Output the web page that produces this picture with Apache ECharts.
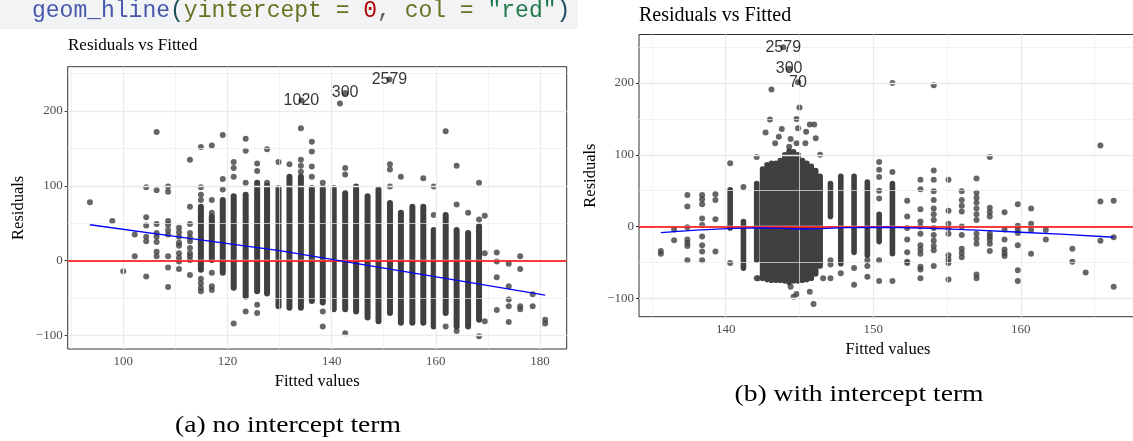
<!DOCTYPE html>
<html>
<head>
<meta charset="utf-8">
<script src="https://cdn.jsdelivr.net/npm/echarts@6/dist/echarts.min.js"></script>
<style>
html,body{margin:0;padding:0;background:#fff;}
#chart{width:1133px;height:441px;}
</style>
</head>
<body>
<div id="chart"></div>
<script>
// ---------------- DATA ----------------
// Panel (a): no intercept term
const LEFT_X_TICKS = [100, 120, 140, 160, 180];
const LEFT_X_MINOR = [90, 110, 130, 150, 170];
const LEFT_Y_TICKS = [-100, 0, 100, 200];
const LEFT_Y_MINOR = [-50, 50, 150, 250];
// dense vertical columns of overlapping points: [fitted, lowest residual, highest residual]
const LEFT_COLUMNS = [
  [114.9,-12,72],[117.0,1,59],[119.1,-16,81],[121.2,-36,86],[123.5,-48,88],[125.7,-41,104],
  [127.6,-44,100],[129.8,-61,97],[131.9,-63,112],[134.1,-63,112],[136.2,-54,97],[138.3,-56,97],
  [140.4,-65,97],[142.6,-65,90],[144.7,-68,99],[146.9,-76,86],[149.0,-81,95],[151.2,-70,77],
  [153.3,-83,64],[155.5,-83,72],[157.6,-83,72],[159.6,-88,41],[161.9,-70,61],[164.0,-88,41],
  [166.2,-88,37],[168.3,-79,46]
];
// individual points: [fitted, [residuals...]]
const LEFT_POINTS = [
  [93.6,[78]],[97.9,[53]],[100.0,[-14]],[102.2,[35,6]],
  [104.4,[98,58,47,32,26,-21]],
  [106.4,[172,94,49,37,32,25,12,6]],
  [108.6,[99,92,53,48,41,35,6,-9,-35]],
  [110.7,[44,38,32,24,20,10,4,-1,-11]],
  [112.8,[135,72,49,37,31,26,17,10,6,1,-19]],
  [114.9,[152,98,88,81,-24,-30,-36,-41]],
  [117.0,[154,81,64,-16,-34,-39]],
  [119.1,[168,109,95]],
  [121.2,[132,124,112,-84]],
  [123.5,[163,147,104,-68]],
  [125.7,[130,120,-59,-70]],
  [127.6,[149,104]],
  [129.8,[132]],
  [131.9,[129]],
  [134.1,[177,135,127,119]],
  [136.2,[159,146,126,112]],
  [138.3,[104,-68,-88]],
  [141.6,[210]],
  [142.6,[124,115,-97]],
  [151.2,[129,122,99]],
  [153.3,[112]],
  [157.6,[110]],
  [159.6,[99,61]],
  [161.9,[173,-88]],
  [164.0,[127,75,-94]],
  [166.2,[64]],
  [168.3,[104,55,-101]],
  [169.4,[60,10,-81]],
  [171.7,[11,-1,-22,-66]],
  [174.0,[-4,-34,-52,-61,-82]],
  [176.2,[6,-11,-61,-65]],
  [178.6,[-45,-61]],
  [181.0,[-79,-84]]
];
const LEFT_LABELLED = [[134.2,214,'1020'],[142.6,224,'300'],[151.1,242,'2579']];
const LEFT_SMOOTH = [[93.6,48],[112,30.5],[130,13.5],[155.5,-16.3],[181,-46]];

// Panel (b): with intercept term
const RIGHT_X_TICKS = [140, 150, 160];
const RIGHT_X_MINOR = [135, 145, 155, 165];
const RIGHT_Y_TICKS = [-100, 0, 100, 200];
const RIGHT_Y_MINOR = [-50, 50, 150, 250];
const RIGHT_COLUMNS = [
  [140.3,-2,51],[141.2,-58,7],[142.1,-47,60],
  [142.5,-72,80],[142.8,-74,86],[143.1,-75,88],[143.4,-75,88],[143.7,-75,92],[144.0,-76,100],
  [144.3,-78,105],[144.6,-76,104],[144.9,-76,100],[145.2,-75,92],[145.5,-74,88],[145.8,-72,84],
  [146.1,-66,78],[146.4,-55,70],
  [147.1,14,60],[147.8,-52,70],[148.7,-36,70],[149.6,-40,62],[150.4,-21,17],[151.3,-38,60]
];
const RIGHT_POINTS = [
  [135.6,[-34,-38]],[136.5,[-4,-19]],
  [137.4,[44,28,-1,-18,-23,-27,-47]],
  [138.4,[44,38,31,11,2,-14,-26,-35,-47]],
  [139.3,[45,37,10,-35]],
  [140.3,[88,-51]],[141.2,[55]],[142.1,[97,-72]],
  [147.1,[-47,-53,-72]],[147.8,[-65]],[148.7,[-58,-81]],[149.6,[-47,-55,-70]],
  [150.4,[90,79,69,50,39,-47,-76]],
  [151.3,[200,76,-76]],
  [152.3,[36,14,-2,-18,-36,-49,-51]],
  [153.2,[65,52,24,7,0,-10,-26,-32,-38,-56,-60,-72]],
  [154.1,[197,78,65,49,37,25,17,9,-2,-12,-20,-27,-33,-55]],
  [155.1,[65,22,4,-2,-10,-40,-46,-51,-74]],
  [156.0,[49,37,29,21,0,-12,-31,-37,-43]],
  [157.0,[67,47,40,33,25,17,9,-10,-17,-24,-67,-72]],
  [157.9,[97,26,20,14,-10,-14,-18,-24,-34]],
  [158.9,[20,-4,-18,-32,-37,-41]],
  [159.8,[31,1,-4,-9,-26,-61,-76]],
  [160.7,[25,4,-5,-38]],
  [161.7,[-5,-18]],
  [163.5,[-31,-49]],
  [164.4,[-64]],
  [165.4,[113,35,-20]],
  [166.3,[36,-15,-84]]
];
// scattered points around the main cluster: [fitted, residual]
const RIGHT_CLUSTER_STRAYS = [
  [143.1,191],[145.0,166],[143.0,149],[144.8,150],[142.7,131],[143.8,136],[143.6,125],[143.35,116],
  [144.4,122],[144.9,137],[145.45,132],[145.7,142],[146.0,142],[146.1,123],[145.4,116],[146.4,100],
  [144.8,116],[144.3,111],[144.4,-84],[144.6,-98],[144.8,-94],[145.7,-91],[145.95,-108],[144.3,-75],
  [142.2,-72],[146.6,-72]
];
const RIGHT_LABELLED = [[143.9,250,'2579'],[144.3,220,'300'],[144.9,201,'70']];
const RIGHT_SMOOTH = [[135.6,-8.5],[138,-5],[140.5,-2.5],[142.5,-2],[144,-2.5],[145,-3.5],[146.5,-3],
  [148,-1.5],[151,-1],[154,-2.5],[157,-5],[160,-8],[163,-11],[166.3,-15]];

// ---------------- CHART ----------------
const SERIF = '"Liberation Serif", "Times New Roman", serif';
const SANS = '"Liberation Sans", Arial, sans-serif';
const MONO = '"Liberation Mono", "DejaVu Sans Mono", monospace';
const PT = '#404040';

function flatten(list){ const out=[]; list.forEach(([x,ys])=>ys.forEach(y=>out.push([x,y]))); return out; }
const fmtNum = v => (v < 0 ? '\u2212' + Math.abs(v) : String(v));

function gridLines(xMaj, xMin, yMaj, yMin){
  const d = [];
  xMin.forEach(v=>d.push({xAxis:v, lineStyle:{color:'#ececec', width:0.7, type:'solid'}}));
  yMin.forEach(v=>d.push({yAxis:v, lineStyle:{color:'#ececec', width:0.7, type:'solid'}}));
  xMaj.forEach(v=>d.push({xAxis:v, lineStyle:{color:'#ebebeb', width:1.3, type:'solid'}}));
  yMaj.forEach(v=>d.push({yAxis:v, lineStyle:{color:'#ebebeb', width:1.3, type:'solid'}}));
  return d;
}

function panelSeries(i, cols, colWidth, pts, labelled, smooth, grid){
  return [
    { type:'line', xAxisIndex:i, yAxisIndex:i, data:[], z:1, silent:true,
      markLine:{ silent:true, symbol:['none','none'], animation:false, label:{show:false},
        data: grid } },
    { type:'custom', xAxisIndex:i, yAxisIndex:i, z:3, silent:true, data: cols,
      encode:{x:0, y:[1,2]},
      renderItem:(params, api)=>{
        const a = api.coord([api.value(0), api.value(1)]);
        const b = api.coord([api.value(0), api.value(2)]);
        return { type:'line', shape:{x1:a[0], y1:a[1], x2:b[0], y2:b[1]},
          style:{stroke:PT, lineWidth:colWidth, lineCap:'round'} };
      } },
    { type:'scatter', xAxisIndex:i, yAxisIndex:i, z:3, silent:true, data: pts,
      symbol:'circle', symbolSize:6, itemStyle:{color:PT} },
    { type:'scatter', xAxisIndex:i, yAxisIndex:i, z:7, silent:true, data: labelled,
      symbol:'circle', symbolSize:6, itemStyle:{color:PT},
      label:{ show:true, position:'inside', formatter:p=>p.data[2], color:'#000',
        fontFamily:SANS, fontSize:16, textBorderWidth:0 } },
    { type:'line', xAxisIndex:i, yAxisIndex:i, z:5, silent:true, data: smooth,
      showSymbol:false, symbol:'none', lineStyle:{color:'#0000ff', width:1.3}, smooth:false },
    { type:'line', xAxisIndex:i, yAxisIndex:i, data:[], z:6, silent:true,
      markLine:{ silent:true, symbol:['none','none'], animation:false, label:{show:false},
        data:[{yAxis:0, lineStyle:{color:'#ff0000', width:1.6, type:'solid'}}] } }
  ];
}

function xAxisCfg(i, min, max, ticks){
  return { type:'value', gridIndex:i, min, max, position:'bottom',
    axisLine:{show:false}, splitLine:{show:false}, minorSplitLine:{show:false},
    axisTick:{show:true, customValues:ticks, length:3, lineStyle:{color:'#333', width:1}},
    axisLabel:{show:true, customValues:ticks, formatter:fmtNum, color:'#4d4d4d', fontFamily:SERIF, fontSize:13, margin:6},
    name:'Fitted values', nameLocation:'middle', nameGap:24,
    nameTextStyle:{color:'#000', fontFamily:SERIF, fontSize:16.5, verticalAlign:'top'} };
}
function yAxisCfg(i, min, max, ticks, gap){
  return { type:'value', gridIndex:i, min, max,
    axisLine:{show:false}, splitLine:{show:false}, minorSplitLine:{show:false},
    axisTick:{show:true, customValues:ticks, length:3, lineStyle:{color:'#333', width:1}},
    axisLabel:{show:true, customValues:ticks, formatter:fmtNum, color:'#4d4d4d', fontFamily:SERIF, fontSize:13, margin:5},
    name:'Residuals', nameLocation:'middle', nameGap:gap, nameRotate:90,
    nameTextStyle:{color:'#000', fontFamily:SERIF, fontSize:16.5} };
}

const chart = echarts.init(document.getElementById('chart'), null, {renderer:'canvas'});
chart.setOption({
  animation:false,
  backgroundColor:'#ffffff',
  grid:[
    {left:67.7, top:66.7, width:499, height:282.3, show:true, borderColor:'#333', borderWidth:1,
     backgroundColor:'transparent', containLabel:false, outerBoundsMode:'none'},
    {left:639, top:34.5, width:498, height:282.2, show:true, borderColor:'#333', borderWidth:1,
     backgroundColor:'transparent', containLabel:false, outerBoundsMode:'none'}
  ],
  xAxis:[ xAxisCfg(0, 89.33, 185.13, LEFT_X_TICKS), xAxisCfg(1, 134.12, 167.88, RIGHT_X_TICKS) ],
  yAxis:[ yAxisCfg(0, -118, 259.2, LEFT_Y_TICKS, 41), yAxisCfg(1, -125.7, 267.6, RIGHT_Y_TICKS, 40) ],
  series:[
    ...panelSeries(0, LEFT_COLUMNS, 6, flatten(LEFT_POINTS), LEFT_LABELLED, LEFT_SMOOTH,
      gridLines(LEFT_X_TICKS, LEFT_X_MINOR, LEFT_Y_TICKS, LEFT_Y_MINOR)),
    ...panelSeries(1, RIGHT_COLUMNS, 5.6, flatten(RIGHT_POINTS).concat(RIGHT_CLUSTER_STRAYS), RIGHT_LABELLED, RIGHT_SMOOTH,
      gridLines(RIGHT_X_TICKS, RIGHT_X_MINOR, RIGHT_Y_TICKS, RIGHT_Y_MINOR))
  ],
  graphic:[
    { type:'rect', shape:{x:0, y:0, width:578, height:29}, style:{fill:'#f1f3f5'}, z:-10, silent:true },
    { type:'text', x:32, y:11, silent:true, z:10,
      style:{
        text:'{f|geom_hline}{p|(}{a|yintercept}{a| = }{n|0}{o|, }{a|col}{a| = }{s|"red"}{p|)}',
        fontFamily:MONO, fontSize:23, verticalAlign:'middle', fill:'#333',
        rich:{
          f:{fill:'#4758AB', fontFamily:MONO, fontSize:23},
          p:{fill:'#1e4b5a', fontFamily:MONO, fontSize:23},
          a:{fill:'#657422', fontFamily:MONO, fontSize:23},
          n:{fill:'#AD0000', fontFamily:MONO, fontSize:23},
          o:{fill:'#5E5E5E', fontFamily:MONO, fontSize:23},
          s:{fill:'#20794D', fontFamily:MONO, fontSize:23}
        }
      } },
    { type:'text', x:68, y:46, silent:true,
      style:{text:'Residuals vs Fitted', fontFamily:SERIF, fontSize:17, fill:'#000', verticalAlign:'middle'} },
    { type:'text', x:639, y:16, silent:true,
      style:{text:'Residuals vs Fitted', fontFamily:SERIF, fontSize:20, fill:'#000', verticalAlign:'middle'} },
    { type:'text', x:288, y:426, scaleX:1.2, silent:true,
      style:{text:'(a) no intercept term', fontFamily:SERIF, fontSize:23, fill:'#000', align:'center', verticalAlign:'middle'} },
    { type:'text', x:859, y:395, scaleX:1.2, silent:true,
      style:{text:'(b) with intercept term', fontFamily:SERIF, fontSize:23, fill:'#000', align:'center', verticalAlign:'middle'} }
  ]
});
</script>
</body>
</html>
